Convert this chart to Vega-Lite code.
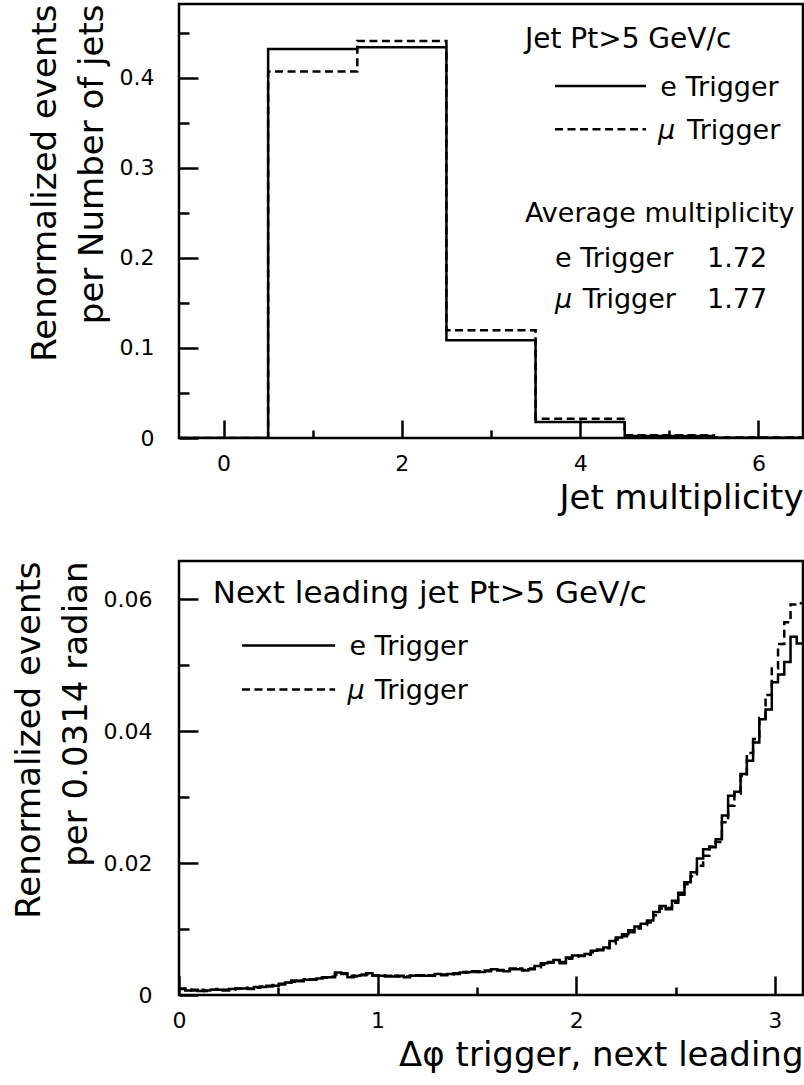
{
  "$schema": "https://vega.github.io/schema/vega-lite/v6.json",
  "background": "white",
  "padding": {"left": 10, "top": 2, "right": 0, "bottom": 0},
  "spacing": 42,
  "config": {
    "view": {"stroke": "black", "strokeWidth": 2.5},
    "font": "DejaVu Sans",
    "axis": {"grid": false, "domain": false, "tickColor": "black", "tickWidth": 2.5, "labelColor": "black", "labelFontSize": 22, "labelFont": "DejaVu Sans", "titleFont": "DejaVu Sans", "titleFontSize": 34, "titleFontWeight": "normal", "titleColor": "black", "format": "~g", "labelFlush": false, "labelOverlap": false},
    "text": {"font": "DejaVu Sans", "fontSize": 27, "color": "black"}
  },
  "datasets": {
    "jets": [
      {"n": -0.5, "e": 0, "mu": 0},
      {"n": 0.5, "e": 0.432, "mu": 0.407},
      {"n": 1.5, "e": 0.434, "mu": 0.441},
      {"n": 2.5, "e": 0.1085, "mu": 0.1196},
      {"n": 3.5, "e": 0.0178, "mu": 0.0215},
      {"n": 4.5, "e": 0.0022, "mu": 0.003},
      {"n": 5.5, "e": 0.0004, "mu": 0.0006},
      {"n": 6.5, "e": 0.0004, "mu": 0.0006}
    ],
    "dphi": [
      {"phi": 0, "e": 0.0009, "mu": 0.0010},
      {"phi": 0.0314, "e": 0.0007, "mu": 0.0008},
      {"phi": 0.0628, "e": 0.0008, "mu": 0.0007},
      {"phi": 0.0942, "e": 0.0006, "mu": 0.0008},
      {"phi": 0.1257, "e": 0.0007, "mu": 0.0006},
      {"phi": 0.1571, "e": 0.0008, "mu": 0.0008},
      {"phi": 0.1885, "e": 0.0008, "mu": 0.0009},
      {"phi": 0.2199, "e": 0.0007, "mu": 0.0008},
      {"phi": 0.2513, "e": 0.0009, "mu": 0.0008},
      {"phi": 0.2827, "e": 0.0010, "mu": 0.0010},
      {"phi": 0.3142, "e": 0.0010, "mu": 0.0011},
      {"phi": 0.3456, "e": 0.0009, "mu": 0.0010},
      {"phi": 0.3770, "e": 0.0012, "mu": 0.0011},
      {"phi": 0.4084, "e": 0.0012, "mu": 0.0013},
      {"phi": 0.4398, "e": 0.0014, "mu": 0.0013},
      {"phi": 0.4712, "e": 0.0014, "mu": 0.0015},
      {"phi": 0.5027, "e": 0.0017, "mu": 0.0016},
      {"phi": 0.5341, "e": 0.0019, "mu": 0.0019},
      {"phi": 0.5655, "e": 0.0022, "mu": 0.0020},
      {"phi": 0.5969, "e": 0.0021, "mu": 0.0022},
      {"phi": 0.6283, "e": 0.0023, "mu": 0.0024},
      {"phi": 0.6597, "e": 0.0024, "mu": 0.0023},
      {"phi": 0.6912, "e": 0.0025, "mu": 0.0026},
      {"phi": 0.7226, "e": 0.0027, "mu": 0.0026},
      {"phi": 0.7540, "e": 0.0027, "mu": 0.0028},
      {"phi": 0.7854, "e": 0.0034, "mu": 0.0031},
      {"phi": 0.8168, "e": 0.0032, "mu": 0.0033},
      {"phi": 0.8482, "e": 0.0027, "mu": 0.0029},
      {"phi": 0.8796, "e": 0.0029, "mu": 0.0028},
      {"phi": 0.9111, "e": 0.0030, "mu": 0.0031},
      {"phi": 0.9425, "e": 0.0033, "mu": 0.0031},
      {"phi": 0.9739, "e": 0.0030, "mu": 0.0029},
      {"phi": 1.0053, "e": 0.0029, "mu": 0.0030},
      {"phi": 1.0367, "e": 0.0029, "mu": 0.0028},
      {"phi": 1.0681, "e": 0.0028, "mu": 0.0029},
      {"phi": 1.0996, "e": 0.0029, "mu": 0.0028},
      {"phi": 1.1310, "e": 0.0027, "mu": 0.0028},
      {"phi": 1.1624, "e": 0.0029, "mu": 0.0029},
      {"phi": 1.1938, "e": 0.0030, "mu": 0.0029},
      {"phi": 1.2252, "e": 0.0029, "mu": 0.0030},
      {"phi": 1.2566, "e": 0.0030, "mu": 0.0029},
      {"phi": 1.2881, "e": 0.0032, "mu": 0.0031},
      {"phi": 1.3195, "e": 0.0030, "mu": 0.0031},
      {"phi": 1.3509, "e": 0.0032, "mu": 0.0031},
      {"phi": 1.3823, "e": 0.0033, "mu": 0.0032},
      {"phi": 1.4137, "e": 0.0034, "mu": 0.0035},
      {"phi": 1.4451, "e": 0.0035, "mu": 0.0034},
      {"phi": 1.4765, "e": 0.0036, "mu": 0.0035},
      {"phi": 1.5080, "e": 0.0035, "mu": 0.0036},
      {"phi": 1.5394, "e": 0.0037, "mu": 0.0036},
      {"phi": 1.5708, "e": 0.0039, "mu": 0.0038},
      {"phi": 1.6022, "e": 0.0037, "mu": 0.0038},
      {"phi": 1.6336, "e": 0.0036, "mu": 0.0037},
      {"phi": 1.6650, "e": 0.0040, "mu": 0.0039},
      {"phi": 1.6965, "e": 0.0039, "mu": 0.0040},
      {"phi": 1.7279, "e": 0.0037, "mu": 0.0038},
      {"phi": 1.7593, "e": 0.0039, "mu": 0.0040},
      {"phi": 1.7907, "e": 0.0044, "mu": 0.0042},
      {"phi": 1.8221, "e": 0.0048, "mu": 0.0046},
      {"phi": 1.8535, "e": 0.0049, "mu": 0.0050},
      {"phi": 1.8850, "e": 0.0053, "mu": 0.0051},
      {"phi": 1.9164, "e": 0.0048, "mu": 0.0050},
      {"phi": 1.9478, "e": 0.0057, "mu": 0.0055},
      {"phi": 1.9792, "e": 0.0060, "mu": 0.0058},
      {"phi": 2.0106, "e": 0.0059, "mu": 0.0060},
      {"phi": 2.0420, "e": 0.0062, "mu": 0.0061},
      {"phi": 2.0735, "e": 0.0067, "mu": 0.0065},
      {"phi": 2.1049, "e": 0.0069, "mu": 0.0068},
      {"phi": 2.1363, "e": 0.0072, "mu": 0.0071},
      {"phi": 2.1677, "e": 0.0082, "mu": 0.0078},
      {"phi": 2.1991, "e": 0.0087, "mu": 0.0084},
      {"phi": 2.2305, "e": 0.0092, "mu": 0.0089},
      {"phi": 2.2619, "e": 0.0098, "mu": 0.0095},
      {"phi": 2.2934, "e": 0.0104, "mu": 0.0101},
      {"phi": 2.3248, "e": 0.0108, "mu": 0.0106},
      {"phi": 2.3562, "e": 0.0113, "mu": 0.0110},
      {"phi": 2.3876, "e": 0.0126, "mu": 0.0121},
      {"phi": 2.4190, "e": 0.0135, "mu": 0.0131},
      {"phi": 2.4504, "e": 0.0130, "mu": 0.0132},
      {"phi": 2.4819, "e": 0.0143, "mu": 0.0140},
      {"phi": 2.5133, "e": 0.0155, "mu": 0.0152},
      {"phi": 2.5447, "e": 0.0171, "mu": 0.0168},
      {"phi": 2.5761, "e": 0.0186, "mu": 0.0180},
      {"phi": 2.6075, "e": 0.0207, "mu": 0.0196},
      {"phi": 2.6389, "e": 0.0221, "mu": 0.0211},
      {"phi": 2.6704, "e": 0.0224, "mu": 0.0225},
      {"phi": 2.7018, "e": 0.0236, "mu": 0.0232},
      {"phi": 2.7332, "e": 0.0272, "mu": 0.0262},
      {"phi": 2.7646, "e": 0.0302, "mu": 0.0287},
      {"phi": 2.7960, "e": 0.0308, "mu": 0.0305},
      {"phi": 2.8274, "e": 0.0335, "mu": 0.0332},
      {"phi": 2.8588, "e": 0.0355, "mu": 0.0367},
      {"phi": 2.8903, "e": 0.0383, "mu": 0.0388},
      {"phi": 2.9217, "e": 0.0418, "mu": 0.0420},
      {"phi": 2.9531, "e": 0.0433, "mu": 0.0455},
      {"phi": 2.9845, "e": 0.0474, "mu": 0.0495},
      {"phi": 3.0159, "e": 0.0486, "mu": 0.0532},
      {"phi": 3.0473, "e": 0.0505, "mu": 0.0565},
      {"phi": 3.0788, "e": 0.0543, "mu": 0.0592},
      {"phi": 3.1102, "e": 0.0533, "mu": 0.0594},
      {"phi": 3.1416, "e": 0.0533, "mu": 0.0594}
    ]
  },
  "vconcat": [
    {
      "width": 624,
      "height": 434,
      "resolve": {"axis": {"x": "independent", "y": "independent"}},
      "layer": [
        {
          "data": {"name": "jets"},
          "mark": {"type": "line", "interpolate": "step-after", "color": "black", "strokeWidth": 2.5, "clip": true},
          "encoding": {
            "x": {"field": "n", "type": "quantitative", "scale": {"domain": [-0.5, 6.5], "nice": false, "zero": false},
                  "axis": {"values": [0, 2, 4, 6], "tickSize": -18, "labelPadding": 33, "title": "Jet multiplicity", "titleAnchor": "end", "titlePadding": 7}},
            "y": {"field": "e", "type": "quantitative", "scale": {"domain": [0, 0.482], "nice": false},
                  "axis": {"values": [0, 0.1, 0.2, 0.3, 0.4], "tickSize": -19, "labelPadding": 44, "title": ["Renormalized events", "per Number of jets"], "titleAnchor": "end", "titlePadding": 10, "titleLineHeight": 47}}
          }
        },
        {
          "data": {"name": "jets"},
          "mark": {"type": "line", "interpolate": "step-after", "color": "black", "strokeWidth": 2.5, "strokeDash": [8, 4.5], "clip": true},
          "encoding": {
            "x": {"field": "n", "type": "quantitative", "axis": {"orient": "bottom", "values": [1, 3, 5], "tickSize": -8, "labels": false, "title": null}},
            "y": {"field": "mu", "type": "quantitative", "axis": {"orient": "left", "values": [0.05, 0.15, 0.25, 0.35, 0.45], "tickSize": -10, "labels": false, "title": null}}
          }
        },
        {
          "data": {"values": [{}]},
          "mark": {"type": "text", "align": "left", "baseline": "middle", "fontSize": 28},
          "encoding": {"x": {"datum": 3.381, "type": "quantitative", "axis": null}, "y": {"datum": 0.442, "type": "quantitative", "axis": null}, "text": {"value": "Jet Pt>5 GeV/c"}}
        },
        {
          "data": {"values": [{}]},
          "mark": {"type": "rule", "color": "black", "strokeWidth": 2.5},
          "encoding": {"x": {"datum": 3.718, "type": "quantitative", "axis": null}, "x2": {"datum": 4.739}, "y": {"datum": 0.391, "type": "quantitative", "axis": null}}
        },
        {
          "data": {"values": [{}]},
          "mark": {"type": "rule", "color": "black", "strokeWidth": 2.5, "strokeDash": [8, 4.5]},
          "encoding": {"x": {"datum": 3.718, "type": "quantitative", "axis": null}, "x2": {"datum": 4.739}, "y": {"datum": 0.343, "type": "quantitative", "axis": null}}
        },
        {
          "data": {"values": [{}]},
          "mark": {"type": "text", "align": "left", "baseline": "middle"},
          "encoding": {"x": {"datum": 4.9, "type": "quantitative", "axis": null}, "y": {"datum": 0.389, "type": "quantitative", "axis": null}, "text": {"value": "e Trigger"}}
        },
        {
          "data": {"values": [{}]},
          "mark": {"type": "text", "align": "left", "baseline": "middle", "fontStyle": "italic"},
          "encoding": {"x": {"datum": 4.874, "type": "quantitative", "axis": null}, "y": {"datum": 0.341, "type": "quantitative", "axis": null}, "text": {"value": "μ"}}
        },
        {
          "data": {"values": [{}]},
          "mark": {"type": "text", "align": "left", "baseline": "middle"},
          "encoding": {"x": {"datum": 5.2, "type": "quantitative", "axis": null}, "y": {"datum": 0.341, "type": "quantitative", "axis": null}, "text": {"value": "Trigger"}}
        },
        {
          "data": {"values": [{}]},
          "mark": {"type": "text", "align": "left", "baseline": "middle"},
          "encoding": {"x": {"datum": 3.381, "type": "quantitative", "axis": null}, "y": {"datum": 0.249, "type": "quantitative", "axis": null}, "text": {"value": "Average multiplicity"}}
        },
        {
          "data": {"values": [{}]},
          "mark": {"type": "text", "align": "left", "baseline": "middle"},
          "encoding": {"x": {"datum": 3.718, "type": "quantitative", "axis": null}, "y": {"datum": 0.199, "type": "quantitative", "axis": null}, "text": {"value": "e Trigger"}}
        },
        {
          "data": {"values": [{}]},
          "mark": {"type": "text", "align": "left", "baseline": "middle"},
          "encoding": {"x": {"datum": 5.423, "type": "quantitative", "axis": null}, "y": {"datum": 0.199, "type": "quantitative", "axis": null}, "text": {"value": "1.72"}}
        },
        {
          "data": {"values": [{}]},
          "mark": {"type": "text", "align": "left", "baseline": "middle", "fontStyle": "italic"},
          "encoding": {"x": {"datum": 3.718, "type": "quantitative", "axis": null}, "y": {"datum": 0.153, "type": "quantitative", "axis": null}, "text": {"value": "μ"}}
        },
        {
          "data": {"values": [{}]},
          "mark": {"type": "text", "align": "left", "baseline": "middle"},
          "encoding": {"x": {"datum": 4.03, "type": "quantitative", "axis": null}, "y": {"datum": 0.153, "type": "quantitative", "axis": null}, "text": {"value": "Trigger"}}
        },
        {
          "data": {"values": [{}]},
          "mark": {"type": "text", "align": "left", "baseline": "middle"},
          "encoding": {"x": {"datum": 5.423, "type": "quantitative", "axis": null}, "y": {"datum": 0.153, "type": "quantitative", "axis": null}, "text": {"value": "1.77"}}
        }
      ]
    },
    {
      "width": 624,
      "height": 434,
      "resolve": {"axis": {"x": "independent", "y": "independent"}},
      "layer": [
        {
          "data": {"name": "dphi"},
          "mark": {"type": "line", "interpolate": "step-after", "color": "black", "strokeWidth": 2.5, "clip": true},
          "encoding": {
            "x": {"field": "phi", "type": "quantitative", "scale": {"domain": [0, 3.1416], "nice": false, "zero": false},
                  "axis": {"values": [0, 1, 2, 3], "tickSize": -19, "labelPadding": 34, "title": "Δφ trigger, next leading", "titleAnchor": "end", "titlePadding": 7}},
            "y": {"field": "e", "type": "quantitative", "scale": {"domain": [0, 0.0658], "nice": false},
                  "axis": {"values": [0, 0.02, 0.04, 0.06], "tickSize": -19, "labelPadding": 46, "title": ["Renormalized events", "per 0.0314 radian"], "titleAnchor": "end", "titlePadding": 10, "titleLineHeight": 47}}
          }
        },
        {
          "data": {"name": "dphi"},
          "mark": {"type": "line", "interpolate": "step-after", "color": "black", "strokeWidth": 2.5, "strokeDash": [8, 4.5], "clip": true},
          "encoding": {
            "x": {"field": "phi", "type": "quantitative", "axis": {"orient": "bottom", "values": [0.5, 1.5, 2.5], "tickSize": -8, "labels": false, "title": null}},
            "y": {"field": "mu", "type": "quantitative", "axis": {"orient": "left", "values": [0.01, 0.03, 0.05], "tickSize": -10, "labels": false, "title": null}}
          }
        },
        {
          "data": {"values": [{}]},
          "mark": {"type": "text", "align": "left", "baseline": "middle", "fontSize": 31},
          "encoding": {"x": {"datum": 0.17, "type": "quantitative", "axis": null}, "y": {"datum": 0.0608, "type": "quantitative", "axis": null}, "text": {"value": "Next leading jet Pt>5 GeV/c"}}
        },
        {
          "data": {"values": [{}]},
          "mark": {"type": "rule", "color": "black", "strokeWidth": 2.5},
          "encoding": {"x": {"datum": 0.317, "type": "quantitative", "axis": null}, "x2": {"datum": 0.786}, "y": {"datum": 0.053, "type": "quantitative", "axis": null}}
        },
        {
          "data": {"values": [{}]},
          "mark": {"type": "rule", "color": "black", "strokeWidth": 2.5, "strokeDash": [8, 4.5]},
          "encoding": {"x": {"datum": 0.317, "type": "quantitative", "axis": null}, "x2": {"datum": 0.786}, "y": {"datum": 0.0463, "type": "quantitative", "axis": null}}
        },
        {
          "data": {"values": [{}]},
          "mark": {"type": "text", "align": "left", "baseline": "middle"},
          "encoding": {"x": {"datum": 0.858, "type": "quantitative", "axis": null}, "y": {"datum": 0.0527, "type": "quantitative", "axis": null}, "text": {"value": "e Trigger"}}
        },
        {
          "data": {"values": [{}]},
          "mark": {"type": "text", "align": "left", "baseline": "middle", "fontStyle": "italic"},
          "encoding": {"x": {"datum": 0.848, "type": "quantitative", "axis": null}, "y": {"datum": 0.0461, "type": "quantitative", "axis": null}, "text": {"value": "μ"}}
        },
        {
          "data": {"values": [{}]},
          "mark": {"type": "text", "align": "left", "baseline": "middle"},
          "encoding": {"x": {"datum": 0.985, "type": "quantitative", "axis": null}, "y": {"datum": 0.0461, "type": "quantitative", "axis": null}, "text": {"value": "Trigger"}}
        }
      ]
    }
  ]
}
